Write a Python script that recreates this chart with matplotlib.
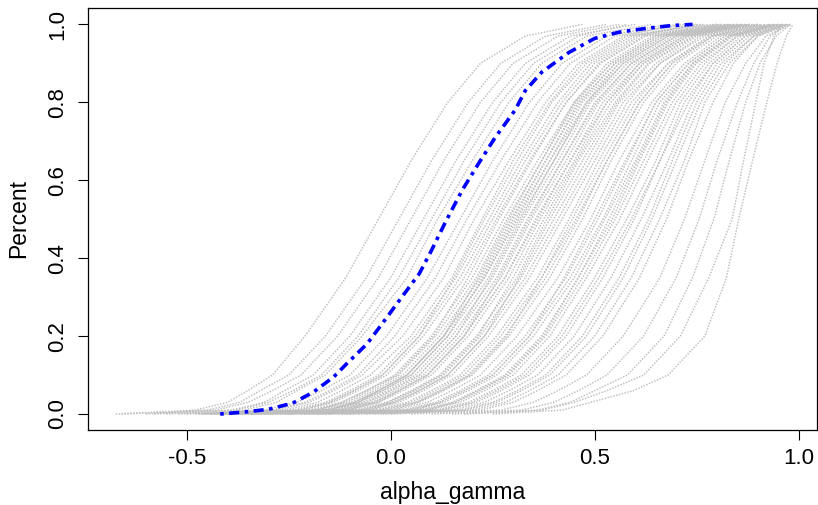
import matplotlib
matplotlib.use("Agg")
import matplotlib.pyplot as plt

plt.rcParams["font.family"] = ["Liberation Sans", "DejaVu Sans"]

levels = [0, 0.01, 0.03, 0.06, 0.1, 0.2, 0.35, 0.5, 0.65, 0.8, 0.9, 0.97, 1.0]

# grey curves, x-position at each level (left group, middle group, right group)
left_curves = [
    [-0.674, -0.48, -0.40, -0.35, -0.29, -0.21, -0.11, -0.03, 0.05, 0.14, 0.22, 0.33, 0.47],
    [-0.60, -0.45, -0.37, -0.32, -0.25, -0.16, -0.06, 0.02, 0.10, 0.19, 0.27, 0.38, 0.53],
    [-0.66, -0.43, -0.35, -0.29, -0.22, -0.13, -0.03, 0.05, 0.13, 0.22, 0.30, 0.41, 0.56],
    [-0.55, -0.39, -0.31, -0.26, -0.19, -0.10, 0.00, 0.08, 0.16, 0.25, 0.33, 0.44, 0.60],
    [-0.58, -0.38, -0.30, -0.24, -0.17, -0.08, 0.02, 0.10, 0.18, 0.27, 0.35, 0.46, 0.58],
    [-0.50, -0.36, -0.28, -0.23, -0.16, -0.07, 0.04, 0.115, 0.20, 0.29, 0.37, 0.48, 0.64],
    [-0.52, -0.31, -0.23, -0.17, -0.10, -0.01, 0.09, 0.17, 0.25, 0.34, 0.42, 0.53, 0.68],
    [-0.46, -0.29, -0.21, -0.15, -0.08, 0.01, 0.11, 0.187, 0.27, 0.36, 0.44, 0.55, 0.72],
    [-0.48, -0.28, -0.20, -0.14, -0.07, 0.03, 0.13, 0.205, 0.29, 0.38, 0.46, 0.57, 0.70],
    [-0.44, -0.26, -0.18, -0.12, -0.05, 0.05, 0.15, 0.224, 0.30, 0.39, 0.47, 0.58, 0.75],
    [-0.40, -0.21, -0.15, -0.09, -0.02, 0.07, 0.155, 0.23, 0.31, 0.395, 0.48, 0.59, 0.76],
]

middle_curves = [
    [-0.47, -0.24, -0.16, -0.10, -0.03, 0.06, 0.16, 0.241, 0.32, 0.41, 0.49, 0.60, 0.77],
    [-0.42, -0.23, -0.15, -0.09, -0.02, 0.07, 0.17, 0.25, 0.33, 0.42, 0.50, 0.61, 0.74],
    [-0.43, -0.22, -0.14, -0.08, -0.01, 0.08, 0.18, 0.259, 0.34, 0.43, 0.51, 0.62, 0.79],
    [-0.44, -0.18, -0.12, -0.06, 0.015, 0.105, 0.19, 0.265, 0.345, 0.43, 0.515, 0.625, 0.80],
    [-0.40, -0.20, -0.12, -0.06, 0.01, 0.10, 0.20, 0.277, 0.36, 0.45, 0.53, 0.64, 0.80],
    [-0.45, -0.19, -0.11, -0.05, 0.02, 0.11, 0.21, 0.285, 0.37, 0.45, 0.54, 0.65, 0.78],
    [-0.37, -0.15, -0.09, -0.03, 0.04, 0.13, 0.215, 0.29, 0.37, 0.455, 0.54, 0.65, 0.83],
    [-0.38, -0.18, -0.10, -0.04, 0.03, 0.12, 0.22, 0.295, 0.38, 0.46, 0.55, 0.66, 0.82],
    [-0.42, -0.14, -0.08, -0.02, 0.05, 0.14, 0.225, 0.30, 0.38, 0.465, 0.55, 0.66, 0.81],
    [-0.41, -0.17, -0.09, -0.03, 0.04, 0.13, 0.23, 0.305, 0.39, 0.47, 0.56, 0.67, 0.81],
    [-0.36, -0.16, -0.08, -0.03, 0.04, 0.13, 0.23, 0.31, 0.39, 0.48, 0.56, 0.67, 0.84],
    [-0.39, -0.16, -0.08, -0.02, 0.05, 0.14, 0.24, 0.315, 0.40, 0.48, 0.57, 0.68, 0.83],
    [-0.34, -0.12, -0.06, 0.00, 0.07, 0.16, 0.245, 0.32, 0.40, 0.485, 0.57, 0.68, 0.85],
    [-0.35, -0.15, -0.07, -0.01, 0.06, 0.15, 0.25, 0.325, 0.41, 0.49, 0.58, 0.69, 0.86],
    [-0.37, -0.14, -0.06, 0.00, 0.07, 0.16, 0.26, 0.335, 0.42, 0.50, 0.59, 0.70, 0.84],
    [-0.38, -0.10, -0.04, 0.02, 0.09, 0.18, 0.265, 0.34, 0.42, 0.505, 0.59, 0.70, 0.86],
    [-0.33, -0.13, -0.05, 0.01, 0.08, 0.17, 0.27, 0.345, 0.43, 0.51, 0.60, 0.71, 0.87],
    [-0.34, -0.12, -0.04, 0.02, 0.09, 0.18, 0.28, 0.355, 0.44, 0.52, 0.61, 0.72, 0.85],
    [-0.31, -0.11, -0.03, 0.02, 0.09, 0.18, 0.28, 0.36, 0.44, 0.53, 0.61, 0.72, 0.88],
    [-0.32, -0.11, -0.03, 0.03, 0.10, 0.19, 0.29, 0.366, 0.45, 0.53, 0.62, 0.73, 0.87],
    [-0.31, -0.065, -0.005, 0.055, 0.125, 0.215, 0.30, 0.375, 0.455, 0.54, 0.62, 0.73, 0.88],
    [-0.30, -0.09, -0.01, 0.05, 0.12, 0.21, 0.31, 0.383, 0.46, 0.55, 0.63, 0.74, 0.89],
    [-0.35, -0.05, 0.01, 0.07, 0.14, 0.23, 0.315, 0.39, 0.47, 0.555, 0.635, 0.745, 0.90],
    [-0.28, -0.08, 0.00, 0.06, 0.13, 0.22, 0.32, 0.40, 0.48, 0.56, 0.65, 0.75, 0.88],
    [-0.29, -0.07, 0.01, 0.07, 0.14, 0.23, 0.33, 0.41, 0.49, 0.57, 0.66, 0.76, 0.90],
    [-0.26, -0.06, 0.02, 0.08, 0.15, 0.24, 0.34, 0.42, 0.50, 0.58, 0.66, 0.77, 0.91],
    [-0.27, -0.04, 0.04, 0.10, 0.17, 0.26, 0.36, 0.437, 0.51, 0.59, 0.68, 0.78, 0.90],
    [-0.26, 0.005, 0.065, 0.125, 0.195, 0.285, 0.37, 0.445, 0.52, 0.60, 0.68, 0.785, 0.91],
    [-0.24, -0.03, 0.05, 0.11, 0.18, 0.27, 0.37, 0.454, 0.53, 0.61, 0.69, 0.79, 0.92],
    [-0.25, -0.02, 0.06, 0.12, 0.19, 0.28, 0.38, 0.46, 0.53, 0.61, 0.69, 0.79, 0.93],
    [-0.22, -0.01, 0.07, 0.13, 0.20, 0.29, 0.39, 0.47, 0.54, 0.62, 0.70, 0.80, 0.92],
    [-0.20, 0.01, 0.09, 0.15, 0.22, 0.31, 0.41, 0.49, 0.56, 0.64, 0.72, 0.81, 0.94],
    [-0.22, 0.06, 0.12, 0.18, 0.25, 0.34, 0.425, 0.50, 0.575, 0.65, 0.73, 0.82, 0.94],
    [-0.21, 0.03, 0.11, 0.17, 0.24, 0.33, 0.43, 0.508, 0.58, 0.65, 0.73, 0.82, 0.93],
    [-0.17, 0.04, 0.12, 0.18, 0.25, 0.34, 0.44, 0.52, 0.59, 0.66, 0.74, 0.83, 0.95],
    [-0.18, 0.05, 0.13, 0.19, 0.26, 0.35, 0.45, 0.525, 0.60, 0.67, 0.74, 0.83, 0.94],
    [-0.19, 0.095, 0.155, 0.215, 0.285, 0.375, 0.46, 0.535, 0.605, 0.675, 0.745, 0.835, 0.95],
]

right_curves = [
    [-0.15, 0.07, 0.15, 0.21, 0.28, 0.37, 0.46, 0.543, 0.61, 0.68, 0.75, 0.84, 0.95],
    [-0.16, 0.08, 0.16, 0.22, 0.29, 0.38, 0.47, 0.55, 0.62, 0.69, 0.76, 0.85, 0.96],
    [-0.12, 0.09, 0.17, 0.23, 0.30, 0.39, 0.48, 0.561, 0.63, 0.70, 0.77, 0.85, 0.95],
    [-0.13, 0.11, 0.19, 0.25, 0.32, 0.41, 0.50, 0.579, 0.65, 0.71, 0.78, 0.86, 0.96],
    [-0.10, 0.12, 0.20, 0.26, 0.33, 0.42, 0.51, 0.59, 0.66, 0.72, 0.79, 0.87, 0.97],
    [-0.11, 0.13, 0.21, 0.27, 0.34, 0.43, 0.52, 0.597, 0.66, 0.73, 0.79, 0.87, 0.96],
    [-0.08, 0.15, 0.23, 0.29, 0.36, 0.45, 0.54, 0.614, 0.68, 0.74, 0.80, 0.88, 0.97],
    [-0.06, 0.17, 0.25, 0.31, 0.38, 0.47, 0.56, 0.632, 0.69, 0.75, 0.81, 0.89, 0.96],
    [-0.04, 0.18, 0.26, 0.32, 0.39, 0.48, 0.57, 0.64, 0.70, 0.76, 0.82, 0.89, 0.97],
    [-0.02, 0.20, 0.28, 0.34, 0.41, 0.50, 0.59, 0.659, 0.72, 0.77, 0.83, 0.90, 0.98],
    [0.00, 0.22, 0.30, 0.36, 0.43, 0.52, 0.61, 0.676, 0.73, 0.79, 0.84, 0.90, 0.97],
    [0.05, 0.27, 0.35, 0.41, 0.48, 0.57, 0.66, 0.72, 0.77, 0.82, 0.87, 0.92, 0.98],
    [0.10, 0.32, 0.40, 0.46, 0.53, 0.62, 0.70, 0.756, 0.80, 0.85, 0.89, 0.93, 0.975],
    [0.15, 0.36, 0.44, 0.50, 0.58, 0.67, 0.74, 0.792, 0.83, 0.87, 0.905, 0.945, 0.98],
    [0.18, 0.37, 0.45, 0.53, 0.62, 0.71, 0.78, 0.837, 0.865, 0.895, 0.915, 0.94, 0.96],
    [0.25, 0.42, 0.49, 0.595, 0.68, 0.77, 0.823, 0.853, 0.887, 0.922, 0.947, 0.97, 0.986],
]

# highlighted (blue) curve
blue_x = [-0.418, -0.36, -0.30, -0.24, -0.19, -0.14, -0.107, -0.058, -0.02,
          0.02, 0.07, 0.10, 0.133, 0.175, 0.216, 0.255, 0.305, 0.33, 0.37,
          0.437, 0.50, 0.56, 0.628, 0.69, 0.74]
blue_y = [0.0, 0.005, 0.012, 0.028, 0.056, 0.095, 0.13, 0.18, 0.233,
          0.29, 0.36, 0.42, 0.49, 0.574, 0.644, 0.708, 0.78, 0.83, 0.877,
          0.928, 0.964, 0.98, 0.99, 0.997, 1.0]

x_ticks = [-0.5, 0.0, 0.5, 1.0]
x_tick_labels = ["-0.5", "0.0", "0.5", "1.0"]
y_ticks = [0.0, 0.2, 0.4, 0.6, 0.8, 1.0]
y_tick_labels = ["0.0", "0.2", "0.4", "0.6", "0.8", "1.0"]

fig = plt.figure(figsize=(8.18, 5.05), dpi=100)
ax = fig.add_axes([88 / 818, 75 / 505, 729 / 818, 422 / 505])

for xs in left_curves + middle_curves + right_curves:
    ax.plot(xs, levels, color="#bebebe", lw=1.05, linestyle=(0, (1, 1)))

ax.plot(blue_x, blue_y, color="blue", lw=2.6, linestyle=(0, (1, 1.5, 2.8, 1.5)))

ax.set_xlim(-0.742, 1.045)
ax.set_ylim(-0.041, 1.042)
ax.set_xticks(x_ticks)
ax.set_xticklabels(x_tick_labels)
ax.set_yticks(y_ticks)
ax.set_yticklabels(y_tick_labels, rotation=90, va="center")
ax.tick_params(direction="out", length=7.2, width=0.8, labelsize=16, pad=6)
ax.tick_params(axis="y", pad=7)

for sp in ax.spines.values():
    sp.set_linewidth(0.9)

ax.set_xlabel("alpha_gamma", fontsize=16.5)
ax.xaxis.set_label_coords(0.5, -0.147)
ax.xaxis.label.set_va("center")
ax.set_ylabel("Percent", fontsize=16.5)
ax.yaxis.set_label_coords(-0.095, 0.5)
ax.yaxis.label.set_va("center")

fig.savefig("out.png", dpi=100)
